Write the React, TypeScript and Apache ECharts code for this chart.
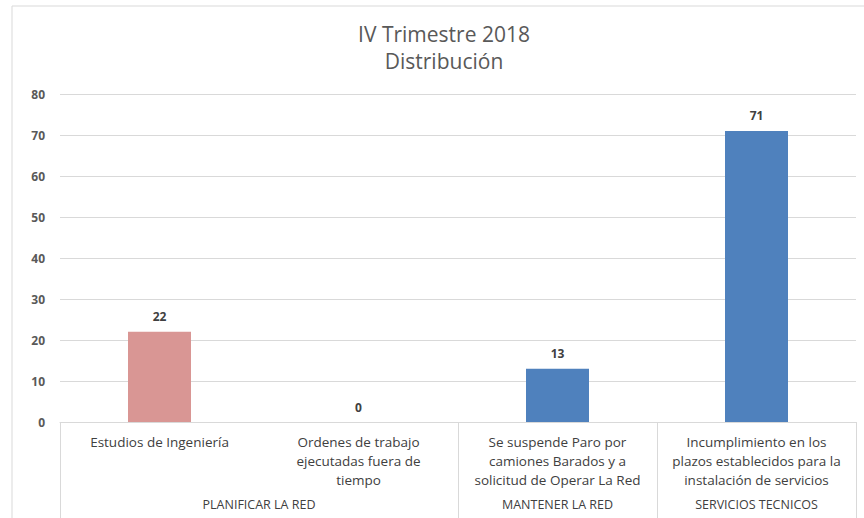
import React, { useEffect, useRef } from "react";
import * as echarts from "echarts";

const categories = [
  "Estudios de Ingeniería",
  "Ordenes de trabajo\nejecutadas fuera de\ntiempo",
  "Se suspende Paro por\ncamiones Barados y a\nsolicitud de Operar La Red",
  "Incumplimiento en los\nplazos establecidos para la\ninstalación de servicios",
];
const values = [22, 0, 13, 71];
const barColors = ["#d99694", "#4f81bd", "#4f81bd", "#4f81bd"];
const groups = ["PLANIFICAR LA RED", "MANTENER LA RED", "SERVICIOS TECNICOS"];
const groupCenters = [1, 2.5, 3.5];
const groupBounds = [0, 2, 3, 4];
const yTicks = { min: 0, max: 80, interval: 10 };

export default function App() {
  const ref = useRef<HTMLDivElement>(null);
  useEffect(() => {
    const chart = echarts.init(ref.current!, null, { renderer: "svg" });
    const font = "Open Sans, Noto Sans, sans-serif";
    const titleStyle = {
      fontFamily: font,
      fontSize: 21,
      fontWeight: "normal",
      color: "#595959",
      lineHeight: 24,
    };
    chart.setOption({
      animation: false,
      backgroundColor: "#ffffff",
      title: {
        text: "IV Trimestre 2018",
        subtext: "Distribución",
        left: 444,
        textAlign: "center",
        top: 22,
        padding: 0,
        itemGap: 3,
        textStyle: titleStyle,
        subtextStyle: titleStyle,
      },
      graphic: [
        {
          type: "rect",
          shape: { x: 12, y: 6, width: 870, height: 530 },
          style: { fill: "none", stroke: "#d9d9d9", lineWidth: 1 },
          silent: true,
        },
      ],
      grid: { left: 60, right: 8, top: 94, bottom: 96, containLabel: false },
      xAxis: [
        {
          type: "category",
          data: categories,
          axisLine: { show: true, lineStyle: { color: "#d9d9d9" } },
          axisTick: { show: false },
          axisLabel: {
            interval: 0,
            margin: 10,
            fontFamily: font,
            fontSize: 13.5,
            color: "#404040",
            lineHeight: 19,
          },
        },
        {
          type: "value",
          min: 0,
          max: 4,
          position: "bottom",
          axisLine: { show: false },
          splitLine: { show: false },
          axisTick: {
            show: true,
            customValues: groupBounds,
            length: 100,
            lineStyle: { color: "#d9d9d9" },
          },
          axisLabel: {
            customValues: groupCenters,
            margin: 76,
            fontFamily: font,
            fontSize: 12.5,
            color: "#404040",
            formatter: (v: number) => {
              const i = groupCenters.indexOf(v);
              return i >= 0 ? groups[i] : "";
            },
          },
        },
      ],
      yAxis: {
        type: "value",
        min: yTicks.min,
        max: yTicks.max,
        interval: yTicks.interval,
        axisLine: { show: false },
        axisTick: { show: false },
        splitLine: { lineStyle: { color: "#d9d9d9" } },
        axisLabel: {
          margin: 15,
          fontFamily: font,
          fontSize: 12,
          fontWeight: "bold",
          color: "#595959",
        },
      },
      series: [
        {
          type: "bar",
          xAxisIndex: 0,
          data: values.map((v, i) => ({ value: v, itemStyle: { color: barColors[i] } })),
          barWidth: 63,
          label: {
            show: true,
            position: "top",
            distance: 9,
            fontFamily: font,
            fontSize: 12,
            fontWeight: "bold",
            color: "#404040",
          },
        },
      ],
    });
    return () => chart.dispose();
  }, []);
  return <div ref={ref} style={{ width: 864, height: 518, position: "absolute", left: 0, top: 0 }} />;
}
